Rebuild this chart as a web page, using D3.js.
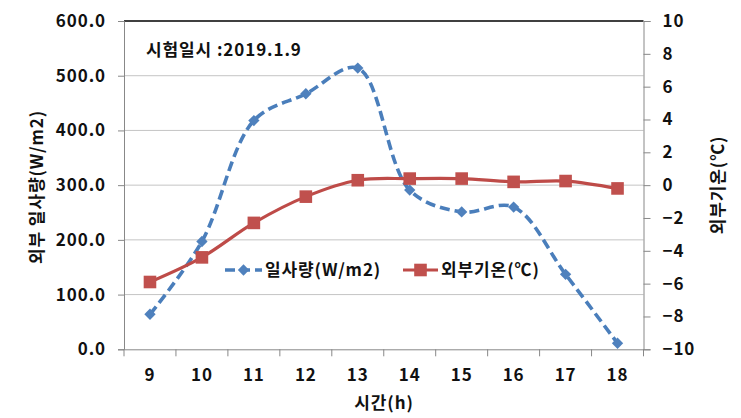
<!DOCTYPE html>
<html><head><meta charset="utf-8">
<script src="https://cdn.jsdelivr.net/npm/d3@7"></script>
<style>
html,body{margin:0;padding:0;background:#fff;}
text{font-family:"Noto Sans CJK KR","Noto Sans",sans-serif;font-weight:bold;fill:#111;letter-spacing:0.9px;}
</style></head>
<body>
<svg id="c" width="741" height="418"></svg>
<script>
const hours = ["9","10","11","12","13","14","15","16","17","18"];
const irradiance = [64, 197, 418, 467, 514, 291, 251, 260, 137, 11];
const outdoorTemp = [-5.9, -4.4, -2.3, -0.7, 0.3, 0.4, 0.4, 0.2, 0.25, -0.2];
const leftTicks = [0, 100, 200, 300, 400, 500, 600];
const rightTicks = [-10, -8, -6, -4, -2, 0, 2, 4, 6, 8, 10];
const seriesNames = ["일사량(W/m2)", "외부기온(℃)"];
const chartTitle = "시험일시 :2019.1.9";
const xTitle = "시간(h)";
const yLeftTitle = "외부 일사량(W/m2)";
const yRightTitle = "외부기온(℃)";

const W = 741, H = 418;
const m = {l:124, r:643.5, t:21, b:349.3};
const svg = d3.select("#c");
const blue = "#4A7EBB", blueM = "#4F81BD", red = "#BE4B48", redM = "#C0504D";

const x = d3.scaleBand().domain(hours).range([m.l, m.r]);
const yL = d3.scaleLinear().domain([0, 600]).range([m.b, m.t]);
const yR = d3.scaleLinear().domain([-10, 10]).range([m.b, m.t]);
const cx = d => x(d) + x.bandwidth()/2;

// gridlines
svg.append("g").selectAll("line").data(leftTicks.filter(v => v > 0 && v < 600)).join("line")
  .attr("x1", m.l).attr("x2", m.r).attr("y1", d => yL(d)).attr("y2", d => yL(d))
  .attr("stroke", "#c4c4c4").attr("stroke-width", 1);
// top border
svg.append("line").attr("x1", m.l).attr("x2", m.r).attr("y1", yL(600)).attr("y2", yL(600))
  .attr("stroke", "#000").attr("stroke-width", 1.3);

// left axis
const gl = svg.append("g").attr("transform", `translate(${m.l},0)`)
  .call(d3.axisLeft(yL).tickValues(leftTicks).tickFormat(d3.format(".1f")).tickSize(6).tickPadding(12));
gl.selectAll("text").style("font-size", "17px");
gl.select(".domain").attr("stroke", "#888");
gl.selectAll(".tick line").attr("stroke", "#888");

// right axis
const gr = svg.append("g").attr("transform", `translate(${m.r},0)`)
  .call(d3.axisRight(yR).tickValues(rightTicks).tickFormat(d3.format("d")).tickSize(7).tickPadding(12));
gr.selectAll("text").style("font-size", "17px");
gr.select(".domain").attr("stroke", "#888");
gr.selectAll(".tick line").attr("stroke", "#888");

// bottom axis
const gb = svg.append("g").attr("transform", `translate(0,${m.b})`)
  .call(d3.axisBottom(x).tickSize(0).tickPadding(20));
gb.selectAll("text").style("font-size", "17px");
gb.select(".domain").attr("stroke", "#888");
const edges = hours.map(h => x(h)).concat([m.r]);
gb.selectAll("line.edge").data(edges).join("line").attr("class", "edge")
  .attr("x1", d => d).attr("x2", d => d).attr("y1", 0).attr("y2", 7).attr("stroke", "#888");

// series: irradiance (blue dashed, smoothed)
const lineL = d3.line().x((d,i) => cx(hours[i])).y(d => yL(d)).curve(d3.curveCatmullRom.alpha(0.5));
svg.append("path").datum(irradiance).attr("d", lineL).attr("fill", "none")
  .attr("stroke", blue).attr("stroke-width", 3.6).attr("stroke-dasharray", "10,5");
const diamond = d3.symbol().type(d3.symbolSquare).size(64);
svg.append("g").selectAll("path").data(irradiance).join("path")
  .attr("d", diamond).attr("transform", (d,i) => `translate(${cx(hours[i])},${yL(d)}) rotate(45)`)
  .attr("fill", blueM);

// series: temperature (red solid, smoothed)
const lineR = d3.line().x((d,i) => cx(hours[i])).y(d => yR(d)).curve(d3.curveCatmullRom.alpha(0.5));
svg.append("path").datum(outdoorTemp).attr("d", lineR).attr("fill", "none")
  .attr("stroke", red).attr("stroke-width", 3.2);
svg.append("g").selectAll("rect").data(outdoorTemp).join("rect")
  .attr("x", (d,i) => cx(hours[i]) - 6.3).attr("y", d => yR(d) - 6.3)
  .attr("width", 12.6).attr("height", 12.6).attr("fill", redM);

// chart title
svg.append("text").attr("x", 146).attr("y", 56).style("font-size", "17px").text(chartTitle);

// axis titles
svg.append("text").attr("x", 384).attr("y", 409).attr("text-anchor", "middle")
  .style("font-size", "17px").text(xTitle);
svg.append("text").attr("transform", `translate(43,187) rotate(-90)`).attr("text-anchor", "middle")
  .style("font-size", "17px").text(yLeftTitle);
svg.append("text").attr("transform", `translate(724,185) rotate(-90)`).attr("text-anchor", "middle")
  .style("font-size", "17px").text(yRightTitle);

// legend
const lg = svg.append("g");
const ly = 270;
lg.append("line").attr("x1", 225).attr("x2", 262).attr("y1", ly).attr("y2", ly)
  .attr("stroke", blue).attr("stroke-width", 3.6).attr("stroke-dasharray", "10,5");
lg.append("path").attr("d", diamond).attr("transform", `translate(243.5,${ly}) rotate(45)`).attr("fill", blueM);
lg.append("text").attr("x", 265).attr("y", ly + 6).style("font-size", "17px").text(seriesNames[0]);
lg.append("line").attr("x1", 403).attr("x2", 438).attr("y1", ly).attr("y2", ly)
  .attr("stroke", red).attr("stroke-width", 3.2);
lg.append("rect").attr("x", 420.5 - 6.3).attr("y", ly - 6.3).attr("width", 12.6).attr("height", 12.6).attr("fill", redM);
lg.append("text").attr("x", 441).attr("y", ly + 6).style("font-size", "17px").text(seriesNames[1]);
</script>
</body></html>
